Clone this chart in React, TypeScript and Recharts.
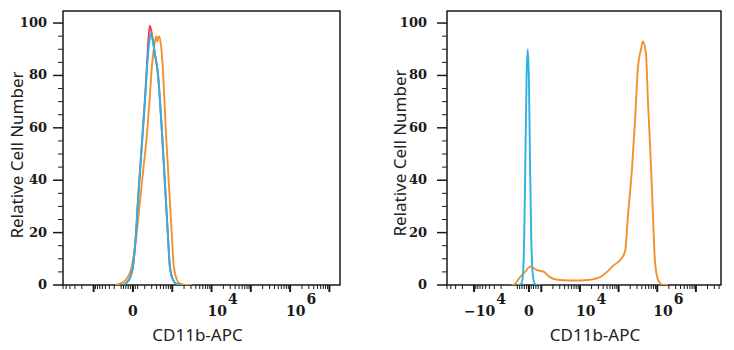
import { LineChart, Line, XAxis, YAxis, ReferenceArea } from 'recharts';

// x values are in display decades of the biexponential axis (0 = zero)
// left panel: 2 = 10^4, 4 = 10^6
const leftRedX = [-0.25, -0.2, -0.1, 0, 0.07, 0.13, 0.19, 0.25, 0.31, 0.36, 0.4, 0.43, 0.48, 0.55, 0.64, 0.69, 0.74, 0.79, 0.84, 0.89, 0.94, 1.02, 1.12, 1.25];
const leftRedY = [0, 0.5, 2, 7, 18, 33, 46, 59, 72, 85, 95, 99, 96, 89, 80, 70, 58, 45, 32, 19, 7, 2, 0.3, 0];

const leftBlueX = [-0.25, -0.2, -0.1, 0, 0.07, 0.13, 0.19, 0.25, 0.31, 0.36, 0.41, 0.46, 0.51, 0.56, 0.64, 0.69, 0.74, 0.79, 0.84, 0.89, 0.94, 1.02, 1.12, 1.25];
const leftBlueY = [0, 0.5, 2, 7, 18, 32, 45, 58, 71, 83, 92, 96, 93, 88, 80, 70, 58, 45, 32, 19, 7, 2, 0.3, 0];

const leftOrangeX = [-0.45, -0.33, -0.18, -0.03, 0.08, 0.18, 0.27, 0.36, 0.43, 0.48, 0.54, 0.59, 0.62, 0.66, 0.71, 0.76, 0.8, 0.84, 0.89, 0.94, 0.99, 1.04, 1.12, 1.2, 1.35, 1.5];
const leftOrangeY = [0, 0.5, 2, 7, 18, 32, 45, 58, 72, 83, 91, 95, 93, 95, 92, 83, 71, 58, 45, 32, 19, 7, 2, 0.5, 0, 0];

// right panel: 1.32 = 10^4, 3.32 = 10^6, -1.42 = -10^4
const rightBlueX = [-0.3, -0.2, -0.16, -0.12, -0.09, -0.06, -0.03, 0, 0.03, 0.06, 0.1, 0.15, 0.22, 0.3];
const rightBlueY = [0, 0.5, 3, 20, 50, 80, 90, 78, 45, 18, 4, 0.5, 0, 0];

const rightOrangeX = [-0.45, -0.41, -0.23, -0.1, 0.03, 0.21, 0.39, 0.54, 0.73, 1.06, 1.32, 1.58, 1.84, 2.02, 2.2, 2.36, 2.49, 2.56, 2.67, 2.75, 2.82, 2.9, 2.95, 3.03, 3.08, 3.16, 3.21, 3.26, 3.34, 3.47, 3.6];
const rightOrangeY = [0, 0, 3, 5, 7, 5.7, 5, 3, 2, 1.7, 1.7, 2, 3, 5, 7.6, 9.5, 13, 26, 45, 64, 83, 90, 93, 88, 70, 45, 26, 9.5, 2, 0, 0];

const yTicks = [0, 5, 10, 15, 20, 25, 30, 35, 40, 45, 50, 55, 60, 65, 70, 75, 80, 85, 90, 95, 100];
const yMax = 104.6;

const leftDomain = [-1.78, 5.27];
const leftMajors = [-1, 0, 1, 2, 3, 4, 5];
const leftLabels = [
  { at: 0, text: '0' },
  { at: 2, text: '10', exp: '4' },
  { at: 4, text: '10', exp: '6' },
];
const leftPosDecades = [0, 1, 2, 3, 4, 5];
const leftNegDecades = [0, -1];
const leftZeroTicks = [-0.24, -0.18, -0.12, -0.06, 0.06, 0.12];

const rightDomain = [-2.12, 4.97];
const rightMajors = [-1.42, 0, 0.32, 1.32, 2.32, 3.32, 4.32];
const rightLabels = [
  { at: -1.42, text: '\u221210', exp: '4' },
  { at: 0, text: '0' },
  { at: 1.32, text: '10', exp: '4' },
  { at: 3.32, text: '10', exp: '6' },
];
const rightPosDecades = [0.32, 1.32, 2.32, 3.32, 4.32];
const rightNegDecades = [-0.42, -1.42];
const rightZeroTicks = [-0.3, -0.24, -0.18, -0.12, -0.06, 0.06, 0.12, 0.18, 0.24];

const RED = '#e8434f';
const BLUE = '#2ab3e3';
const ORANGE = '#f2922e';
const INK = '#1a1a1a';
const SERIF = '"DejaVu Serif", serif';
const SANS = '"Noto Sans", sans-serif';

const toPoints = (xs: number[], ys: number[]) => xs.map((x, i) => ({ x, y: ys[i] }));

// log minor ticks between decades, mirrored on the negative side
function buildTicks(majors: number[], pos: number[], neg: number[], zero: number[], domain: number[]) {
  const out: number[] = [...majors, ...zero];
  for (let k = 2; k <= 9; k++) {
    pos.forEach(p => out.push(p + Math.log10(k)));
    neg.forEach(q => out.push(q - Math.log10(k)));
  }
  return out
    .filter(v => v >= domain[0] && v <= domain[1])
    .sort((a, b) => a - b);
}

const near = (a: number, b: number) => Math.abs(a - b) < 1e-6;

const XTick = ({ x, y, payload, majors, labels }: any) => {
  const v = payload.value;
  const major = majors.some((m: number) => near(m, v));
  const lab = labels.find((l: any) => near(l.at, v));
  return (
    <g>
      <line x1={x} x2={x} y1={y} y2={y + (major ? 7 : 4)} stroke={INK} strokeWidth={major ? 2 : 1} />
      {lab && (lab.exp ? (
        <text x={x - (lab.text.startsWith('\u2212') ? 10 : 4)} y={y + 31} fontFamily={SERIF} fontWeight={700} fontSize={14} fill={INK}>
          {lab.text}
          <tspan dx={1} dy={-12}>{lab.exp}</tspan>
        </text>
      ) : (
        <text x={x} y={y + 31} textAnchor="middle" fontFamily={SERIF} fontWeight={700} fontSize={14} fill={INK}>
          {lab.text}
        </text>
      ))}
    </g>
  );
};

const YTick = ({ x, y, payload, gap }: any) => {
  const v = payload.value;
  const major = v % 20 === 0;
  return (
    <g>
      <line x1={x - (major ? 10 : 5)} x2={x} y1={y} y2={y} stroke={INK} strokeWidth={major ? 1.5 : 1} />
      {major && (
        <text x={x - gap} y={y + 4} textAnchor="end" fontFamily={SERIF} fontWeight={700} fontSize={13} fill={INK}>
          {v}
        </text>
      )}
    </g>
  );
};

const XTitle = ({ viewBox, dx }: any) => (
  <text x={viewBox.x + viewBox.width / 2 + dx} y={viewBox.y + 56} textAnchor="middle" fontFamily={SANS} fontSize={17} fill="#222">
    CD11b-APC
  </text>
);

const YTitle = ({ viewBox, bx, cy }: any) => {
  const x = viewBox.x + bx;
  return (
    <text x={x} y={cy} transform={`rotate(-90, ${x}, ${cy})`} textAnchor="middle" fontFamily={SANS} fontSize={17} fill="#222">
      Relative Cell Number
    </text>
  );
};

interface Series { xs: number[]; ys: number[]; color: string }

function Panel({ domain, majors, labels, ticks, series, yAxisWidth, rightMargin, yGap, titleDx, titleBx, titleCy }: any) {
  return (
    <LineChart width={367} height={350} margin={{ top: 11, right: rightMargin, bottom: 35, left: 0 }}>
      <XAxis
        type="number"
        dataKey="x"
        domain={domain}
        allowDataOverflow
        ticks={ticks}
        interval={0}
        height={30}
        tickSize={0}
        tickMargin={0}
        axisLine={false}
        tickLine={false}
        tick={(p: any) => <XTick {...p} majors={majors} labels={labels} />}
        label={<XTitle dx={titleDx} />}
      />
      <YAxis
        type="number"
        domain={[0, yMax]}
        allowDataOverflow
        ticks={yTicks}
        interval={0}
        width={yAxisWidth}
        tickSize={0}
        tickMargin={0}
        axisLine={false}
        tickLine={false}
        tick={(p: any) => <YTick {...p} gap={yGap} />}
        label={<YTitle bx={titleBx} cy={titleCy} />}
      />
      {series.map((s: Series, i: number) => (
        <Line
          key={i}
          data={toPoints(s.xs, s.ys)}
          dataKey="y"
          type="monotone"
          dot={false}
          activeDot={false}
          stroke={s.color}
          strokeWidth={1.9}
          isAnimationActive={false}
        />
      ))}
      <ReferenceArea x1={domain[0]} x2={domain[1]} y1={0} y2={yMax} fill="none" stroke={INK} strokeWidth={1.5} ifOverflow="visible" />
    </LineChart>
  );
}

export default function App() {
  const leftTicks = buildTicks(leftMajors, leftPosDecades, leftNegDecades, leftZeroTicks, leftDomain);
  const rightTicks = buildTicks(rightMajors, rightPosDecades, rightNegDecades, rightZeroTicks, rightDomain);

  return (
    <div style={{ position: 'absolute', left: 0, top: 0, width: 734, height: 350, background: '#fff' }}>
      <div style={{ position: 'absolute', left: 0, top: 0 }}>
        <Panel
          domain={leftDomain}
          majors={leftMajors}
          labels={leftLabels}
          ticks={leftTicks}
          series={[
            { xs: leftOrangeX, ys: leftOrangeY, color: ORANGE },
            { xs: leftRedX, ys: leftRedY, color: RED },
            { xs: leftBlueX, ys: leftBlueY, color: BLUE },
          ]}
          yAxisWidth={63}
          rightMargin={27}
          yGap={16}
          titleDx={-4}
          titleBx={23}
          titleCy={155}
        />
      </div>
      <div style={{ position: 'absolute', left: 367, top: 0 }}>
        <Panel
          domain={rightDomain}
          majors={rightMajors}
          labels={rightLabels}
          ticks={rightTicks}
          series={[
            { xs: rightOrangeX, ys: rightOrangeY, color: ORANGE },
            { xs: rightBlueX, ys: rightBlueY, color: BLUE },
          ]}
          yAxisWidth={80}
          rightMargin={13}
          yGap={20}
          titleDx={11}
          titleBx={39}
          titleCy={153}
        />
      </div>
    </div>
  );
}
